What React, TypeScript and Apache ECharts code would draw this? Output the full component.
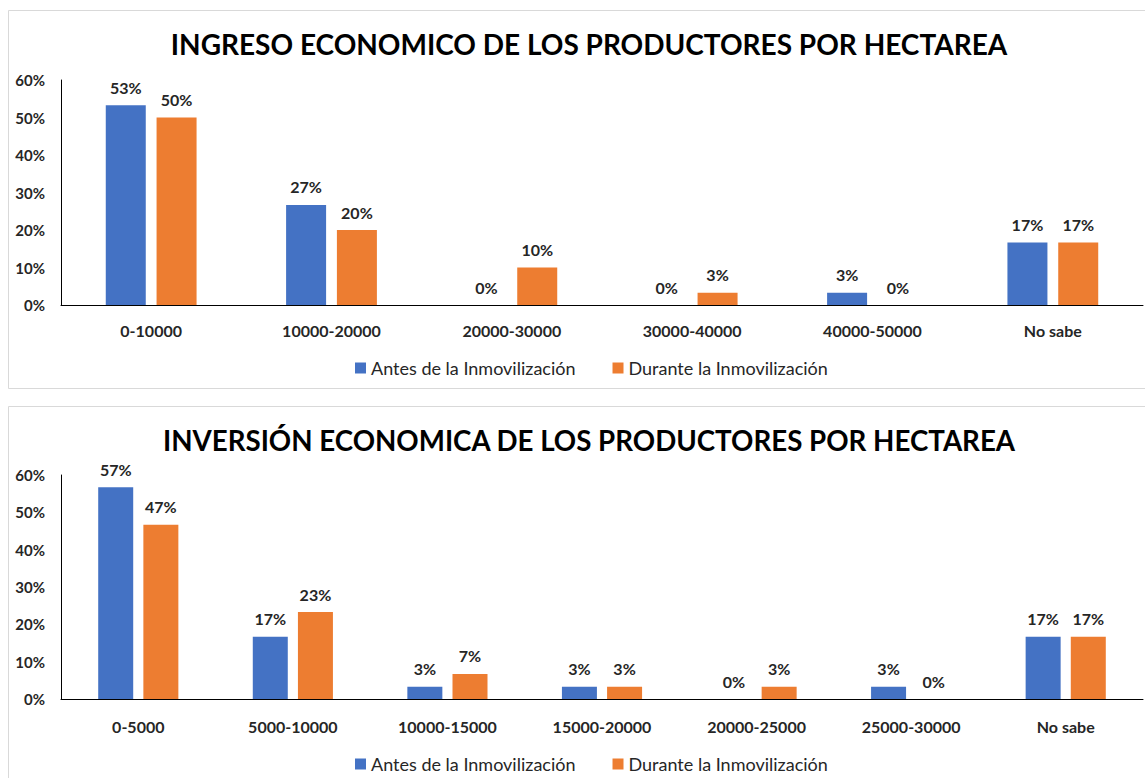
import React, { useEffect, useRef } from "react";
import * as echarts from "echarts";

const seriesNames = ["Antes de la Inmovilización", "Durante la Inmovilización"];

const ingresoCategories = ["0-10000", "10000-20000", "20000-30000", "30000-40000", "40000-50000", "No sabe"];
const ingresoAntes = [53.3, 26.7, 0, 0, 3.3, 16.7];
const ingresoDurante = [50, 20, 10, 3.3, 0, 16.7];

const inversionCategories = ["0-5000", "5000-10000", "10000-15000", "15000-20000", "20000-25000", "25000-30000", "No sabe"];
const inversionAntes = [56.7, 16.7, 3.3, 3.3, 0, 3.3, 16.7];
const inversionDurante = [46.7, 23.3, 6.7, 3.3, 3.3, 0, 16.7];

const titles = [
  "INGRESO ECONOMICO DE LOS PRODUCTORES POR HECTAREA",
  "INVERSIÓN ECONOMICA DE LOS PRODUCTORES POR HECTAREA",
];

const FONT = "Lato, 'Noto Sans', sans-serif";
const BLUE = "#4472C4";
const ORANGE = "#ED7D31";
const TXT = "#262626";

export default function App() {
  const ref = useRef<HTMLDivElement>(null);
  useEffect(() => {
    if (!ref.current) return;
    const chart = echarts.init(ref.current, undefined, { renderer: "svg" });

    const yAxisBase = (gridIndex: number) => ({
      type: "value",
      gridIndex,
      min: 0,
      max: 60,
      interval: 10,
      axisLine: { show: true, lineStyle: { color: "#000", width: 1 } },
      axisTick: { show: false },
      splitLine: { show: false },
      axisLabel: {
        formatter: "{value}%",
        fontFamily: FONT,
        fontWeight: "bold",
        fontSize: 15,
        color: TXT,
        margin: 16,
      },
    });
    const xAxisBase = (gridIndex: number, data: string[], margin: number) => ({
      type: "category",
      gridIndex,
      data,
      axisLine: { show: true, lineStyle: { color: "#000", width: 1 } },
      axisTick: { show: false },
      axisLabel: {
        fontFamily: FONT,
        fontWeight: "bold",
        fontSize: 16,
        color: TXT,
        margin,
        interval: 0,
      },
    });
    const label = {
      show: true,
      position: "top",
      distance: 10,
      fontFamily: FONT,
      fontWeight: "bold",
      fontSize: 16,
      color: TXT,
      formatter: (p: any) => Math.round(p.value) + "%",
    };
    const bar = (name: string, data: number[], idx: number, color: string, width: number, gap: string) => ({
      type: "bar",
      name,
      data,
      xAxisIndex: idx,
      yAxisIndex: idx,
      barWidth: width,
      barGap: gap,
      itemStyle: { color },
      label,
    });

    const legendBase = (top: number) => ({
      data: seriesNames,
      left: 350,
      top,
      icon: "rect",
      itemWidth: 11,
      itemHeight: 11,
      itemGap: 37,
      textStyle: { fontFamily: FONT, fontSize: 18, color: TXT },
    });

    chart.setOption({
      animation: false,
      backgroundColor: "#fff",
      graphic: [
        { type: "rect", shape: { x: 8.5, y: 10.5, width: 1150, height: 378 }, style: { fill: "none", stroke: "#d9d9d9", lineWidth: 1 }, silent: true },
        { type: "rect", shape: { x: 8.5, y: 406.5, width: 1150, height: 400 }, style: { fill: "none", stroke: "#d9d9d9", lineWidth: 1 }, silent: true },
      ],
      title: [
        { text: titles[0], left: 584, textAlign: "center", top: 25, textStyle: { fontFamily: FONT, fontWeight: "bold", fontSize: 28, color: "#000" } },
        { text: titles[1], left: 584, textAlign: "center", top: 421, textStyle: { fontFamily: FONT, fontWeight: "bold", fontSize: 27.7, color: "#000" } },
      ],
      legend: [legendBase(354), legendBase(750)],
      grid: [
        { left: 61, right: 2, top: 80, height: 225 },
        { left: 61, right: 2, top: 475, height: 224 },
      ],
      xAxis: [xAxisBase(0, ingresoCategories, 17), xAxisBase(1, inversionCategories, 19)],
      yAxis: [yAxisBase(0), yAxisBase(1)],
      series: [
        bar(seriesNames[0], ingresoAntes, 0, BLUE, 40, "27%"),
        bar(seriesNames[1], ingresoDurante, 0, ORANGE, 40, "27%"),
        bar(seriesNames[0], inversionAntes, 1, BLUE, 35, "29%"),
        bar(seriesNames[1], inversionDurante, 1, ORANGE, 35, "29%"),
      ],
    });
    return () => chart.dispose();
  }, []);
  return <div ref={ref} style={{ position: "absolute", left: 0, top: 0, width: 1145, height: 778 }} />;
}
